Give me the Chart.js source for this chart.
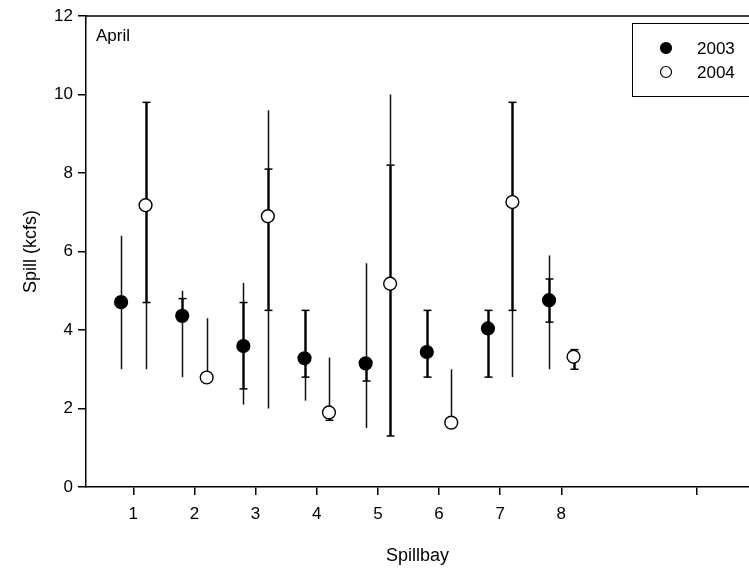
<!DOCTYPE html>
<html><head><meta charset="utf-8">
<script src="https://cdn.jsdelivr.net/npm/chart.js@4/dist/chart.umd.min.js"></script>
<style>html,body{margin:0;padding:0;background:#fff;overflow:hidden}</style>
</head><body>
<canvas id="c" width="749" height="569"></canvas>
<script>
const bays = [1, 2, 3, 4, 5, 6, 7, 8];
const xTicks = [1, 2, 3, 4, 5, 6, 7, 8, 10.22];
const xTickLabels = ['1', '2', '3', '4', '5', '6', '7', '8', ''];
const yTicks = [0, 2, 4, 6, 8, 10, 12];
const seriesLabels = ['2003', '2004'];
const panelLabel = 'April';

const mean2003  = [4.71, 4.36, 3.59, 3.28, 3.15, 3.44, 4.04, 4.76];
const min2003   = [3.0, 2.8, 2.1, 2.2, 1.5, 2.8, 2.8, 3.0];
const max2003   = [6.4, 5.0, 5.2, 4.5, 5.7, 4.5, 4.5, 5.9];
const capLo2003 = [null, null, 2.5, 2.8, 2.7, 2.8, 2.8, 4.2];
const capHi2003 = [null, 4.8, 4.7, 4.5, null, 4.5, 4.5, 5.3];

const mean2004  = [7.18, 2.79, 6.90, 1.90, 5.18, 1.64, 7.26, 3.32];
const min2004   = [3.0, 2.79, 2.0, 1.7, 1.3, 1.64, 2.8, 3.0];
const max2004   = [9.8, 4.3, 9.6, 3.3, 10.0, 3.0, 9.8, 3.5];
const capLo2004 = [4.7, null, 4.5, 1.7, 1.3, null, 4.5, 3.0];
const capHi2004 = [9.8, null, 8.1, null, 8.2, null, 9.8, 3.5];

const OFFSET = 0.2;
const FONT = "'Liberation Sans', Arial, sans-serif";

const errorBars = {
  id: 'errorBars',
  beforeDatasetsDraw(chart) {
    const {ctx, scales: {x, y}} = chart;
    const seg = (x1, y1, x2, y2) => { ctx.beginPath(); ctx.moveTo(x1, y1); ctx.lineTo(x2, y2); ctx.stroke(); };
    chart.data.datasets.forEach(ds => {
      const e = ds.err;
      ds.data.forEach((p, i) => {
        const px = Math.round(x.getPixelForValue(p.x)) + 0.5;
        ctx.save();
        ctx.strokeStyle = '#111';
        ctx.lineWidth = 1.5;
        seg(px, y.getPixelForValue(e.min[i]), px, y.getPixelForValue(e.max[i]));
        const lo = e.capLo[i] ?? p.y, hi = e.capHi[i] ?? p.y;
        ctx.strokeStyle = '#000';
        ctx.lineWidth = 2.3;
        seg(px, y.getPixelForValue(lo), px, y.getPixelForValue(hi));
        ctx.lineWidth = 1.5;
        [e.capLo[i], e.capHi[i]].forEach(v => {
          if (v === null || v === undefined) return;
          const py = y.getPixelForValue(v);
          seg(px - 4, py, px + 4, py);
        });
        ctx.restore();
      });
    });
  },
  afterDraw(chart) {
    const {ctx, chartArea} = chart;
    ctx.save();
    ctx.strokeStyle = '#000';
    ctx.lineWidth = 1.5;
    ctx.beginPath();
    ctx.moveTo(chartArea.left, chartArea.top);
    ctx.lineTo(chartArea.right + 2, chartArea.top);
    ctx.stroke();
    ctx.fillStyle = '#000';
    ctx.font = `17px ${FONT}`;
    ctx.textBaseline = 'middle';
    ctx.textAlign = 'left';
    ctx.fillText(panelLabel, 96, 36);
    ctx.lineWidth = 1;
    ctx.strokeRect(632.5, 23.5, 140, 73);
    chart.data.datasets.forEach((ds, i) => {
      const cy = 48 + i * 24;
      ctx.beginPath();
      ctx.arc(666, cy, 5.5, 0, Math.PI * 2);
      ctx.fillStyle = ds.pointBackgroundColor;
      ctx.fill();
      ctx.lineWidth = 1.2;
      ctx.strokeStyle = '#000';
      ctx.stroke();
      ctx.fillStyle = '#000';
      ctx.font = `17px ${FONT}`;
      ctx.fillText(ds.label, 697, cy + 1);
    });
    ctx.restore();
  }
};

const mk = (vals, lo, hi, clo, chi, label, fill) => ({
  label,
  data: bays.map((b, i) => ({x: b + (label === '2003' ? -OFFSET : OFFSET), y: vals[i]})),
  err: {min: lo, max: hi, capLo: clo, capHi: chi},
  showLine: false,
  pointRadius: 6.4,
  pointBackgroundColor: fill,
  pointBorderColor: '#000',
  pointBorderWidth: 1.4,
});

new Chart(document.getElementById('c'), {
  type: 'scatter',
  data: {
    datasets: [
      mk(mean2003, min2003, max2003, capLo2003, capHi2003, seriesLabels[0], '#000'),
      mk(mean2004, min2004, max2004, capLo2004, capHi2004, seriesLabels[1], '#fff'),
    ]
  },
  options: {
    responsive: false,
    animation: false,
    layout: {autoPadding: false, padding: {top: 16, right: 0, bottom: 0, left: 0}},
    plugins: {legend: {display: false}, tooltip: {enabled: false}},
    scales: {
      x: {
        type: 'linear', min: 0.226, max: 11.07,
        afterBuildTicks: s => { s.ticks = xTicks.map(v => ({value: v})); },
        afterFit: s => { s.height = 82; },
        grid: {display: true, drawOnChartArea: false, drawTicks: true, tickLength: 8, color: '#000', lineWidth: 1.5},
        border: {display: true, color: '#000', width: 1.5},
        ticks: {color: '#000', font: {family: FONT, size: 17}, padding: 9, maxRotation: 0, autoSkip: false,
          callback: (v, i) => xTickLabels[i]},
        title: {display: true, text: 'Spillbay', color: '#000', font: {family: FONT, size: 18}, padding: {top: 0, bottom: 2}}
      },
      y: {
        type: 'linear', min: 0, max: 12,
        afterBuildTicks: s => { s.ticks = yTicks.map(v => ({value: v})); },
        afterFit: s => { s.width = 86; },
        grid: {display: true, drawOnChartArea: false, drawTicks: true, tickLength: 8, color: '#000', lineWidth: 1.5},
        border: {display: true, color: '#000', width: 1.5},
        ticks: {color: '#000', font: {family: FONT, size: 17}, padding: 5, callback: v => String(v)},
        title: {display: true, text: 'Spill (kcfs)', color: '#000', font: {family: FONT, size: 18}, padding: {top: 20, bottom: 0}}
      }
    }
  },
  plugins: [errorBars]
});
</script>
</body></html>
